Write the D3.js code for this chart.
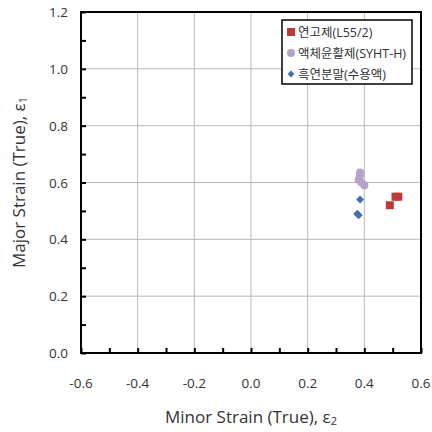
<!DOCTYPE html>
<html>
<head>
<meta charset="utf-8">
<script src="https://cdn.jsdelivr.net/npm/d3@7"></script>
<style>
  body { margin: 0; background: #fff; }
  text { font-family: "Open Sans", "Noto Sans CJK KR", sans-serif; fill: #333; }
</style>
</head>
<body>
<div class="chart"></div>
<script>
// series values: [minor strain, major strain]
const seriesNames = ['연고제(L55/2)', '액체윤활제(SYHT-H)', '흑연분말(수용액)'];
const ointment = [[0.49, 0.52], [0.51, 0.55], [0.52, 0.55]];
const liquid = [[0.385, 0.635], [0.385, 0.625], [0.38, 0.61], [0.39, 0.60], [0.40, 0.59]];
const graphite = [[0.385, 0.54], [0.375, 0.49], [0.38, 0.485]];
const xTicks = [-0.6, -0.4, -0.2, 0.0, 0.2, 0.4, 0.6];
const yTicks = [0.0, 0.2, 0.4, 0.6, 0.8, 1.0, 1.2];

const width = 432, height = 432;
const margin = { top: 12, right: 11, bottom: 79, left: 81 };
const fmt = d => d.toFixed(1);

const svg = d3.select('.chart').append('svg')
    .attr('width', width)
    .attr('height', height);

const xScale = d3.scaleLinear()
    .domain([-0.6, 0.6])
    .range([margin.left, width - margin.right]);

const yScale = d3.scaleLinear()
    .domain([0, 1.2])
    .range([height - margin.bottom, margin.top]);

// grid lines
svg.append('g').selectAll('line')
    .data(xTicks.slice(1, -1))
    .enter().append('line')
    .attr('x1', d => xScale(d)).attr('x2', d => xScale(d))
    .attr('y1', yScale(0)).attr('y2', yScale(1.2))
    .attr('stroke', '#b8b8b8').attr('stroke-width', 1);

svg.append('g').selectAll('line')
    .data(yTicks.slice(1, -1))
    .enter().append('line')
    .attr('x1', xScale(-0.6)).attr('x2', xScale(0.6))
    .attr('y1', d => yScale(d)).attr('y2', d => yScale(d))
    .attr('stroke', '#b8b8b8').attr('stroke-width', 1);

// axes with inward ticks, minor every 0.1
const xAxis = svg.append('g')
    .attr('transform', `translate(0, ${yScale(0)})`)
    .call(d3.axisBottom(xScale).tickValues(d3.range(-6, 7).map(d => d / 10)).tickSize(-5).tickFormat(''));
const yAxis = svg.append('g')
    .attr('transform', `translate(${xScale(-0.6)}, 0)`)
    .call(d3.axisLeft(yScale).tickValues(d3.range(0, 13).map(d => d / 10)).tickSize(-5).tickFormat(''));
[xAxis, yAxis].forEach(a => {
    a.select('.domain').remove();
    a.selectAll('.tick line').attr('stroke', '#000').attr('stroke-width', 2);
});

// frame
svg.append('rect')
    .attr('x', xScale(-0.6)).attr('y', yScale(1.2))
    .attr('width', xScale(0.6) - xScale(-0.6))
    .attr('height', yScale(0) - yScale(1.2))
    .attr('fill', 'none').attr('stroke', '#000').attr('stroke-width', 2);

// tick labels
svg.append('g').selectAll('text')
    .data(xTicks)
    .enter().append('text')
    .attr('x', d => xScale(d))
    .attr('y', yScale(0) + 35)
    .attr('text-anchor', 'middle')
    .style('font-size', '13.5px')
    .text(fmt);

svg.append('g').selectAll('text')
    .data(yTicks)
    .enter().append('text')
    .attr('x', xScale(-0.6) - 13)
    .attr('y', d => yScale(d) + 5)
    .attr('text-anchor', 'end')
    .style('font-size', '13.5px')
    .text(fmt);

// axis titles
const xt = svg.append('text')
    .attr('x', (xScale(-0.6) + xScale(0.6)) / 2)
    .attr('y', 423)
    .attr('text-anchor', 'middle')
    .style('font-size', '17px');
xt.append('tspan').text('Minor Strain (True), ε');
xt.append('tspan').attr('dy', 2).style('font-size', '11px').text('2');

const yt = svg.append('text')
    .attr('transform', `translate(25, ${(yScale(0) + yScale(1.2)) / 2}) rotate(-90)`)
    .attr('text-anchor', 'middle')
    .style('font-size', '17px');
yt.append('tspan').text('Major Strain (True), ε');
yt.append('tspan').attr('dy', 2).style('font-size', '11px').text('1');

// data markers
svg.append('g').selectAll('rect')
    .data(ointment)
    .enter().append('rect')
    .attr('x', d => xScale(d[0]) - 4)
    .attr('y', d => yScale(d[1]) - 4)
    .attr('width', 8).attr('height', 8)
    .attr('fill', '#be3a36');

svg.append('g').selectAll('circle')
    .data(liquid)
    .enter().append('circle')
    .attr('cx', d => xScale(d[0]))
    .attr('cy', d => yScale(d[1]))
    .attr('r', 4)
    .attr('fill', '#b4a3cc');

const diamond = d3.symbol().type(d3.symbolDiamond2).size(40);
svg.append('g').selectAll('path')
    .data(graphite)
    .enter().append('path')
    .attr('d', diamond)
    .attr('transform', d => `translate(${xScale(d[0])}, ${yScale(d[1])})`)
    .attr('fill', '#3f6fb5');

// legend
const lg = svg.append('g').attr('transform', 'translate(282, 20)');
lg.append('rect')
    .attr('width', 130).attr('height', 64)
    .attr('fill', '#fff').attr('stroke', '#000').attr('stroke-width', 1.5);
const items = lg.selectAll('.legend')
    .data(seriesNames)
    .enter().append('g')
    .attr('class', 'legend')
    .attr('transform', (d, i) => `translate(9, ${12 + i * 21})`);
items.each(function(d, i) {
    const g = d3.select(this);
    if (i === 0) g.append('rect').attr('x', -4).attr('y', -4).attr('width', 8).attr('height', 8).attr('fill', '#be3a36');
    if (i === 1) g.append('circle').attr('r', 4).attr('fill', '#b4a3cc');
    if (i === 2) g.append('path').attr('d', d3.symbol().type(d3.symbolDiamond2).size(30)).attr('fill', '#3f6fb5');
});
items.append('text')
    .attr('x', 7)
    .attr('y', 4.5)
    .style('font-size', '12.5px')
    .text(d => d);
</script>
</body>
</html>
